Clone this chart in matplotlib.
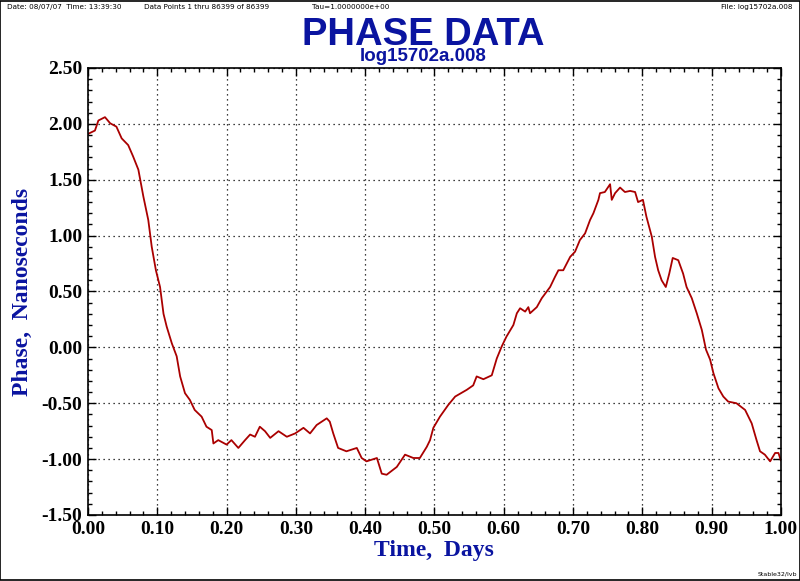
import matplotlib
matplotlib.use("Agg")
import matplotlib.pyplot as plt
from matplotlib.ticker import MultipleLocator, FormatStrFormatter
from matplotlib.patches import Rectangle

# Phase record (time in days, phase in ns)
time_days = [0.000, 0.010, 0.015, 0.0245, 0.032, 0.041, 0.0486, 0.058, 0.065, 0.0727,
             0.0799, 0.087, 0.092, 0.098, 0.104, 0.109, 0.1136, 0.121, 0.128, 0.133,
             0.140, 0.147, 0.154, 0.164, 0.171, 0.1786, 0.181, 0.188, 0.200, 0.207,
             0.217, 0.2267, 0.234, 0.241, 0.248, 0.2555, 0.263, 0.275, 0.287, 0.299,
             0.311, 0.3205, 0.330, 0.3446, 0.349, 0.354, 0.361, 0.373, 0.388, 0.395,
             0.402, 0.417, 0.424, 0.431, 0.4457, 0.4576, 0.4696, 0.479, 0.489, 0.4937,
             0.4985, 0.508, 0.520, 0.530, 0.5467, 0.556, 0.561, 0.5707, 0.5828, 0.590,
             0.597, 0.604, 0.614, 0.619, 0.6237, 0.631, 0.6356, 0.638, 0.6478, 0.655,
             0.667, 0.674, 0.679, 0.686, 0.696, 0.703, 0.710, 0.7175, 0.7247, 0.7295,
             0.7367, 0.739, 0.746, 0.7536, 0.756, 0.7608, 0.768, 0.775, 0.7825, 0.7897,
             0.794, 0.801, 0.806, 0.8138, 0.8185, 0.823, 0.828, 0.834, 0.839, 0.844,
             0.852, 0.859, 0.864, 0.8715, 0.8787, 0.886, 0.892, 0.898, 0.9027, 0.910,
             0.917, 0.924, 0.936, 0.9485, 0.958, 0.965, 0.970, 0.977, 0.9846, 0.9918,
             0.9966, 1.000]
phase_ns = [1.91, 1.94, 2.03, 2.06, 2.005, 1.975, 1.87, 1.81, 1.71, 1.59,
            1.35, 1.14, 0.90, 0.69, 0.54, 0.30, 0.185, 0.036, -0.08, -0.26,
            -0.41, -0.47, -0.56, -0.62, -0.71, -0.74, -0.86, -0.83, -0.87, -0.83,
            -0.90, -0.83, -0.78, -0.80, -0.71, -0.75, -0.81, -0.75, -0.80, -0.77,
            -0.72, -0.77, -0.695, -0.635, -0.665, -0.77, -0.90, -0.93, -0.90, -0.99,
            -1.02, -0.99, -1.13, -1.14, -1.07, -0.96, -0.99, -0.99, -0.89, -0.83,
            -0.72, -0.62, -0.515, -0.44, -0.38, -0.34, -0.26, -0.285, -0.25, -0.10,
            0.006, 0.096, 0.20, 0.305, 0.35, 0.32, 0.36, 0.305, 0.36, 0.44,
            0.54, 0.63, 0.69, 0.69, 0.81, 0.856, 0.96, 1.02, 1.14, 1.20,
            1.32, 1.38, 1.39, 1.46, 1.32, 1.38, 1.43, 1.39, 1.40, 1.39,
            1.30, 1.32, 1.17, 0.99, 0.81, 0.69, 0.60, 0.54, 0.66, 0.80,
            0.78, 0.66, 0.54, 0.44, 0.305, 0.156, -0.02, -0.11, -0.23, -0.366,
            -0.44, -0.485, -0.50, -0.56, -0.68, -0.83, -0.93, -0.96, -1.02, -0.945,
            -0.945, -1.01]

header_left = "Date: 08/07/07  Time: 13:39:30"
header_mid = "Data Points 1 thru 86399 of 86399"
header_tau = "Tau=1.0000000e+00"
header_file = "File: log15702a.008"

blue = "#0a14a0"
red = "#aa0000"

fig = plt.figure(figsize=(8.0, 5.81), dpi=100, facecolor="white")
ax = fig.add_axes([0.110, 0.1136, 0.866, 0.7694])

ax.plot(time_days, phase_ns, color=red, linewidth=1.3)

ax.set_xlim(0.0, 1.0)
ax.set_ylim(-1.5, 2.5)
ax.xaxis.set_major_locator(MultipleLocator(0.1))
ax.xaxis.set_minor_locator(MultipleLocator(0.02))
ax.yaxis.set_major_locator(MultipleLocator(0.5))
ax.yaxis.set_minor_locator(MultipleLocator(0.1))
ax.xaxis.set_major_formatter(FormatStrFormatter("%.2f"))
ax.yaxis.set_major_formatter(FormatStrFormatter("%.2f"))

ax.grid(True, which="major", color="black", linestyle=(0, (1, 3)), linewidth=0.9)
ax.tick_params(which="both", direction="in", top=True, right=True, color="black")
ax.tick_params(which="major", length=6, width=1, pad=4)
ax.tick_params(which="minor", length=3, width=1)
for lab in ax.get_xticklabels() + ax.get_yticklabels():
    lab.set_fontfamily("Liberation Serif")
    lab.set_fontweight("bold")
    lab.set_fontsize(14)
for spine in ax.spines.values():
    spine.set_linewidth(1.2)

ax.set_xlabel("Time,  Days", fontsize=17, fontweight="bold", color=blue,
              fontfamily="Liberation Serif", labelpad=2)
ax.set_ylabel("Phase,  Nanoseconds", fontsize=17, fontweight="bold", color=blue,
              fontfamily="Liberation Serif", labelpad=6)

# Title block
fig.text(0.529, 0.9225, "PHASE DATA", ha="center", va="baseline", fontsize=27.5,
         fontweight="bold", color=blue, fontfamily="Liberation Sans")
fig.text(0.529, 0.8945, "log15702a.008", ha="center", va="baseline", fontsize=13.5,
         fontweight="bold", color=blue, fontfamily="Liberation Sans")

# Header line
hy = 0.988
hs = 5.2
fig.text(0.009, hy, header_left, ha="left", va="center", fontsize=hs, fontfamily="DejaVu Sans")
fig.text(0.180, hy, header_mid, ha="left", va="center", fontsize=hs, fontfamily="DejaVu Sans")
fig.text(0.390, hy, header_tau, ha="left", va="center", fontsize=hs, fontfamily="DejaVu Sans")
fig.text(0.991, hy, header_file, ha="right", va="center", fontsize=hs, fontfamily="DejaVu Sans")
fig.text(0.996, 0.012, "Stable32/lvb", ha="right", va="center", fontsize=4.5, fontfamily="DejaVu Sans")

# Outer frame
fig.patches.append(Rectangle((0.0006, 0.0009), 0.9988, 0.9982, transform=fig.transFigure,
                             fill=False, edgecolor="black", linewidth=1.2))

fig.savefig("out.png", dpi=100, facecolor="white")
